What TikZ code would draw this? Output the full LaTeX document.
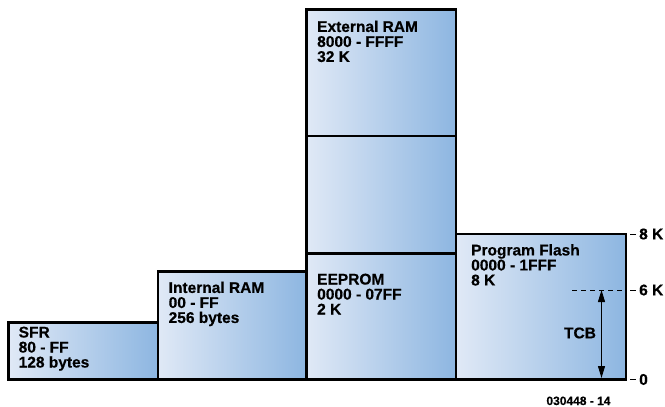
\documentclass[tikz,border=0pt]{standalone}
\usepackage{fontspec}
\setmainfont{Liberation Sans}[BoldFeatures={FakeBold=0.5}]
\usetikzlibrary{arrows.meta}
\definecolor{gl}{HTML}{E0E9F6}
\definecolor{gr}{HTML}{8DB6E1}
\tikzset{
  membox/.style={draw=black, line width=2.6pt, left color=gl, right color=gr},
  lbl/.style={anchor=north west, align=left, font=\fontsize{15.5}{15}\selectfont\bfseries, inner sep=0pt},
  tick/.style={anchor=west, font=\fontsize{15.5}{15}\selectfont\bfseries, inner sep=0pt},
}
\begin{document}
\begin{tikzpicture}[x=1pt,y=-1pt]
\useasboundingbox (0,0) rectangle (665,407);
% boxes
\draw[membox] (8.5,322.5) rectangle (158,379.5);
\draw[membox] (158,271.5) rectangle (306.5,379.5);
\draw[membox] (306.5,9.5) rectangle (456,136);
\draw[membox] (306.5,136) rectangle (456,253.5);
\draw[membox] (306.5,253.5) rectangle (456,379.5);
\draw[membox] (456,234) rectangle (626,379.5);
% labels
\node[lbl] (sfr) at (18.5,326.5) {SFR\\80 - FF\\128 bytes};
\node[lbl] (iram) at (168.5,281.5) {Internal RAM\\00 - FF\\256 bytes};
\node[lbl] (eram) at (317,20.5) {External RAM\\8000 - FFFF\\32 K};
\node[lbl] (eep) at (317,273.5) {EEPROM\\0000 - 07FF\\2 K};
\node[lbl] (pf) at (471,244) {Program Flash\\0000 - 1FFF\\8 K};
% TCB
\coordinate (d1) at (572,290);
\coordinate (d2) at (626,290);
\draw[line width=1pt, dash pattern=on 5pt off 4pt] (d1) -- (d2);
\coordinate (a1) at (601.5,290);
\coordinate (a2) at (601.5,378);
\draw[line width=1pt, {Triangle[length=12pt,width=7pt]}-{Triangle[length=12pt,width=7pt]}] (a1) -- (a2);
\node[font=\fontsize{15.5}{15}\selectfont\bfseries, inner sep=0pt] (tcb) at (580,333) {TCB};
% scale ticks
\node[tick] (t8) at (630,234) {\rule[0.28em]{6pt}{1pt}\hspace{3pt}8 K};
\node[tick] (t6) at (630,290) {\rule[0.28em]{6pt}{1pt}\hspace{3pt}6 K};
\node[tick] (t0) at (630,379.5) {\rule[0.28em]{6pt}{1pt}\hspace{3pt}0};
% figure number
\node[font=\fontsize{12}{12}\selectfont\bfseries, inner sep=0pt, anchor=base] (fig) at (578.5,405) {030448 - 14};
\end{tikzpicture}
\end{document}
